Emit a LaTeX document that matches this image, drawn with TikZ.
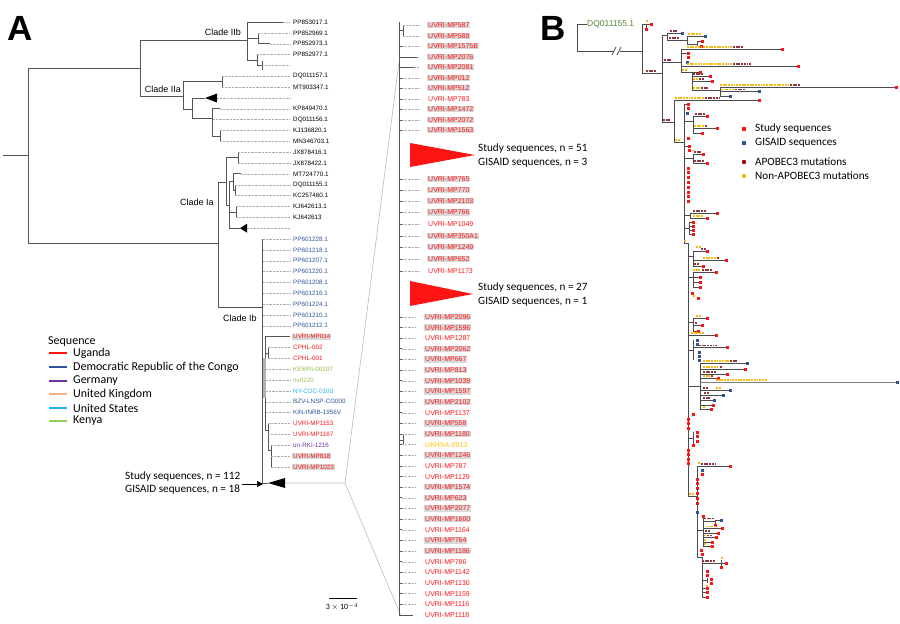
\documentclass[tikz,border=0pt]{standalone}
\usepackage{fontspec}
\setmainfont{Carlito}
\newfontfamily\arialf{Liberation Sans}
\usetikzlibrary{arrows.meta}
\definecolor{ured}{RGB}{255,20,20}
\definecolor{drcb}{RGB}{47,84,150}
\definecolor{germ}{RGB}{112,48,160}
\definecolor{ukor}{RGB}{244,177,131}
\definecolor{ust}{RGB}{40,180,240}
\definecolor{kenyat}{RGB}{146,190,80}
\definecolor{kenyal}{RGB}{146,208,80}
\definecolor{ukhsa}{RGB}{255,192,0}
\definecolor{bggray}{RGB}{217,217,217}
\definecolor{dqgreen}{RGB}{84,130,53}
\definecolor{apob}{RGB}{140,55,60}
\definecolor{apobdark}{RGB}{150,0,0}
\definecolor{nonap}{RGB}{245,185,20}
\definecolor{gblue}{RGB}{46,84,150}
\definecolor{brc}{RGB}{85,85,85}
\definecolor{bbrc}{RGB}{75,75,75}
\newcommand\dotR[2]{\fill[ured] ({#1-1.5},{#2-1.5}) rectangle ++(3,3);}
\newcommand\dotB[2]{\fill[gblue] ({#1-1.5},{#2-1.5}) rectangle ++(3,3);}
\newcommand\mutA[3]{\foreach \k in {1,...,#3}{\fill[apob] ({#1+2.7*(\k-1)-0.95},{#2-0.95}) rectangle ++(1.9,1.9);}}
\newcommand\mutN[3]{\foreach \k in {1,...,#3}{\fill[nonap] ({#1+2.7*(\k-1)-0.95},{#2-0.95}) rectangle ++(1.9,1.9);}}
\tikzset{
 br/.style={draw=brc, line width=0.9pt},
 bbr/.style={draw=bbrc, line width=0.7pt},
 lead/.style={draw=gray!65, line width=0.4pt, dash pattern=on 0.6pt off 0.8pt},
 lfA/.style={anchor=west, inner sep=0pt, font=\arialf\fontsize{6.3}{7}\selectfont},
 lfM/.style={anchor=west, inner xsep=1pt, inner ysep=0.8pt, font=\arialf\fontsize{7}{8}\selectfont, text=ured},
 clade/.style={inner sep=0pt, font=\arialf\fontsize{9}{10}\selectfont},
 leg/.style={anchor=west, inner sep=0pt, font=\fontsize{11.2}{13}\selectfont},
 legA/.style={anchor=west, inner sep=0pt, font=\fontsize{12}{14}\selectfont},
 zoomln/.style={draw=gray!55, line width=0.6pt},
}
\begin{document}
\begin{tikzpicture}[x=1pt,y=-1pt]
\useasboundingbox (0,0) rectangle (900,624);
% panel letters
\node[font=\arialf\bfseries\fontsize{35}{36}\selectfont, inner sep=0pt] (letA) at (20,28) {A};
\node[font=\arialf\bfseries\fontsize{35}{36}\selectfont, inner sep=0pt] (letB) at (553,28) {B};

% ===== Panel A left tree =====
\draw[br] (3,155) -- (28,155);
\draw[br] (28,68) -- (28,243);
\draw[br] (28,68) -- (140,68);
\draw[br] (140,40) -- (140,96);
\draw[br] (140,40) -- (247,40);
\draw[br] (247,22) -- (247,60);
\draw[br] (247,22) -- (283,22);
\draw[br] (247,38.3) -- (258,38.3);
\draw[br] (258,32.9) -- (258,43.7);
\draw[br] (258,43.7) -- (270,43.7);
\draw[br] (247,60) -- (257,60);
\draw[br] (257,54.6) -- (257,65.4);
\draw[br] (257,65.4) -- (262,65.4);
\draw[br] (262,61) -- (262,70);
\draw[br] (140,96) -- (183,96);
\draw[br] (183,81.7) -- (183,109);
\draw[br] (183,81.7) -- (222,81.7);
\draw[br] (222,76.3) -- (222,87.1);
\draw[br] (183,109) -- (192,109);
\draw[br] (192,98) -- (192,118);
\draw[br] (192,98) -- (205,98);
\fill[black] (205,98) -- (217,93.5) -- (217,102.5) -- cycle;
\draw[br] (192,118) -- (212,118);
\draw[br] (212,108.8) -- (212,136);
\draw[br] (212,108.8) -- (220,108.8);
\draw[br] (212,136) -- (220,136);
\draw[br] (220,130.5) -- (220,141.4);
\draw[br] (28,243) -- (218,243);
\draw[br] (218,182) -- (218,307);
\draw[br] (218,182) -- (226,182);
\draw[br] (226,157.6) -- (226,205);
\draw[br] (226,157.6) -- (238,157.6);
\draw[br] (238,152.2) -- (238,163.1);
\draw[br] (226,205) -- (229,205);
\draw[br] (229,181) -- (229,228.2);
\draw[br] (229,181) -- (233,181);
\draw[br] (233,173.9) -- (233,190.2);
\draw[br] (233,173.9) -- (241,173.9);
\draw[br] (233,190.2) -- (235,190.2);
\draw[br] (235,184.8) -- (235,195.6);
\draw[br] (229,212) -- (236,212);
\draw[br] (236,206.5) -- (236,217.3);
\draw[br] (229,228.2) -- (240,228.2);
\fill[black] (240,228.2) -- (247,223.7) -- (247,232.7) -- cycle;
\draw[br] (218,307) -- (262,307);
\draw[br] (262,239) -- (262,483);
\draw[br] (262,380) -- (265,380);
\draw[br] (265,336.7) -- (265,430);
\draw[br] (265,336.7) -- (290,336.7);
\fill[gray!60] (263.4,358) rectangle (266.2,398);
\draw[br] (265,353) -- (268,353);
\draw[br] (268,347.5) -- (268,358.4);
\draw[br] (265,430) -- (268,430);
\draw[br] (268,423.5) -- (268,450);
\draw[br] (268,450) -- (271,450);
\draw[br] (271,445.2) -- (271,466.9);
\draw[br] (262,483) -- (268,483);
\fill[black] (268,483) -- (285,478) -- (285,488) -- cycle;

% leaders left
\foreach \xs/\rr in {283/0,258/1,270/2,257/3,262/4,222/5,222/6,217/7,220/8,213/9,220/10,220/11,238/12,238/13,241/14,235/15,235/16,236/17,236/18,247/19,263/20,263/21,263/22,263/23,263/24,263/25,263/26,263/27,263/28,268/30,268/31,266/32,266/33,266/34,266/35,266/36,268/37,268/38,271/39,271/40,271/41}
  \draw[lead] (\xs,{22+10.85*\rr}) -- (290,{22+10.85*\rr});

% left labels
\foreach \rr/\lab/\cc in {0/PP853017.1/black,1/PP852969.1/black,2/PP852973.1/black,3/PP852977.1/black,5/DQ011157.1/black,6/MT903347.1/black,8/KP849470.1/black,9/DQ011156.1/black,10/KJ136820.1/black,11/MN346703.1/black,12/JX878416.1/black,13/JX878422.1/black,14/MT724770.1/black,15/DQ011155.1/black,16/KC257460.1/black,17/KJ642613.1/black,18/KJ642613/black,20/PP601228.1/drcb,21/PP601218.1/drcb,22/PP601207.1/drcb,23/PP601220.1/drcb,24/PP601208.1/drcb,25/PP601216.1/drcb,26/PP601224.1/drcb,27/PP601210.1/drcb,28/PP601212.1/drcb,30/CPHL-002/ured,31/CPHL-001/ured,32/KEMRI-00107/kenyat,33/nvrl220/kenyat,34/NY-CDC-0100/ust,35/BZV-LNSP-CG000/drcb,36/KIN-INRB-1956V/drcb,37/UVRI-MP1153/ured,38/UVRI-MP1167/ured,39/un-RKI-1216/germ}
  \node[lfA,text=\cc] (lA\rr) at (293,{22+10.85*\rr}) {\lab};
\foreach \rr/\lab in {29/UVRI-MP014,40/UVRI-MP818,41/UVRI-MP1023}
  \node[lfA,text=ured,fill=bggray,inner xsep=1pt,inner ysep=0.8pt] (lA\rr) at (292,{22+10.85*\rr}) {\lab\hspace{3pt}};

% clade labels
\node[clade] (cIIb) at (223,32) {Clade IIb};
\node[clade] (cIIa) at (163,89) {Clade IIa};
\node[clade] (cIa) at (197,202) {Clade Ia};
\node[clade] (cIb) at (240,318) {Clade Ib};

% legend A
\node[legA] (seqhead) at (48,342) {Sequence};
\foreach \yy/\cc/\lab [count=\i] in {353/ured/Uganda,367/drcb/Democratic Republic of the Congo,381/germ/Germany,394/ukor/United Kingdom,408/ust/United States,421/kenyal/Kenya}{
  \draw[\cc, line width=2.2pt] (49,\yy) -- (67,\yy);
  \node[legA] (legA\i) at (73,\yy) {\lab};
}

% collapsed clade annotation
\node[leg] (st112) at (125,477) {Study sequences, n = 112};
\node[leg] (gi18) at (125,490) {GISAID sequences, n = 18};
\coordinate (arrS) at (242,484);
\coordinate (arrE) at (263,484);
\draw[line width=0.7pt, -{Triangle[length=6pt,width=6pt]}] (arrS) -- (arrE);

% zoom lines
\coordinate (zA) at (285,483);
\coordinate (zB) at (345,483);
\coordinate (zT) at (399,62);
\coordinate (zD) at (401,616);
\draw[zoomln] (zA) -- (zB) -- (zT);
\draw[zoomln] (zB) -- (zD);

% scale bar
\draw[line width=0.5pt] (329,598) -- (357,598);
\node[inner sep=0pt, font=\fontsize{8}{9}\selectfont] (scl) at (342,607) {3 $\times$ 10$^{-4}$};

% ===== middle zoomed tree =====
\draw[br] (399,22) -- (399,616);
\draw[br] (399,30) -- (403,30);
\draw[br] (403,25) -- (403,36);
\draw[br] (399,57) -- (417,57);
\draw[br] (399,67) -- (414,67);
\draw[br] (399,440) -- (403,440);
\draw[br] (403,434) -- (403,445);
\draw[br] (399,615) -- (413,615);
\foreach \yy in {46,78,88,99,109,120,130,179,190,201,212.5,224,236,247,259,271}
  {\draw[br] (399,\yy) -- (402,\yy); \draw[lead] (402,\yy) -- (419,\yy);}
\foreach \yy in {25,36} \draw[lead] (403,\yy) -- (419,\yy);
\draw[lead] (417,57) -- (419,57);
\draw[lead] (414,67) -- (419,67);
\foreach \k in {0,...,27}
  {\draw[br] (399,{317+10.64*\k}) -- (402,{317+10.64*\k}); \draw[lead] (402,{317+10.64*\k}) -- (416,{317+10.64*\k});}

\foreach \yy/\lab/\hh [count=\i] in {25/UVRI-MP587/bggray,36/UVRI-MP588/bggray,46/UVRI-MP1575B/bggray,57/UVRI-MP2076/bggray,67/UVRI-MP2081/bggray,78/UVRI-MP012/bggray,88/UVRI-MP512/bggray,99/UVRI-MP783/none,109/UVRI-MP1472/bggray,120/UVRI-MP2072/bggray,130/UVRI-MP1563/bggray,179/UVRI-MP765/bggray,190/UVRI-MP770/bggray,201/UVRI-MP2103/bggray,212.5/UVRI-MP766/bggray,224/UVRI-MP1049/none,236/UVRI-MP350A1/bggray,247/UVRI-MP1249/bggray,259/UVRI-MP652/bggray,271/UVRI-MP1173/none}
  \node[lfM,fill=\hh] (mU\i) at (427,\yy) {\lab\hspace{5pt}};
\foreach \k/\lab/\hh in {0/UVRI-MP2096/bggray,1/UVRI-MP1596/bggray,2/UVRI-MP1287/none,3/UVRI-MP2062/bggray,4/UVRI-MP667/bggray,5/UVRI-MP813/bggray,6/UVRI-MP1039/bggray,7/UVRI-MP1597/bggray,8/UVRI-MP2102/bggray,9/UVRI-MP1137/none,10/UVRI-MP558/bggray,11/UVRI-MP1180/bggray,13/UVRI-MP1246/bggray,14/UVRI-MP787/none,15/UVRI-MP1129/none,16/UVRI-MP1574/bggray,17/UVRI-MP623/bggray,18/UVRI-MP2077/bggray,19/UVRI-MP1600/bggray,20/UVRI-MP1164/none,21/UVRI-MP764/bggray,22/UVRI-MP1186/bggray,23/UVRI-MP786/none,24/UVRI-MP1142/none,25/UVRI-MP1130/none,26/UVRI-MP1159/none,27/UVRI-MP1116/none,28/UVRI-MP1118/none}
  \node[lfM,fill=\hh] (mL\k) at (424,{317+10.64*\k}) {\lab\hspace{5pt}};
\node[lfM,text=ukhsa] (mL12) at (424,{317+10.64*12}) {UKHSA-0013};

% red collapsed triangles
\fill[ured] (410,143) -- (410,167) -- (475,155) -- cycle;
\fill[ured] (410,281) -- (410,306) -- (473,294) -- cycle;
\node[leg] (st51) at (478,149) {Study sequences, n = 51};
\node[leg] (gi3) at (478,163) {GISAID sequences, n = 3};
\node[leg] (st27) at (478,288) {Study sequences, n = 27};
\node[leg] (gi1) at (478,302) {GISAID sequences, n = 1};

% ===== Panel B =====
\node[anchor=west, inner sep=0pt, text=dqgreen, font=\arialf\fontsize{8.5}{9}\selectfont] (dq) at (587,24) {DQ011155.1};
\draw[bbr] (dq.west) -- (577,24) -- (577,51) -- (642,51);
\fill[white] (614,48) rectangle (620,54);
\draw[bbr] (612,55) -- (616,47);
\draw[bbr] (617,55) -- (621,47);
% N1
\draw[bbr] (642,24) -- (642,73);
\draw[bbr] (642,24) -- (651,24);
\draw[bbr] (646,24) -- (646,29);
\mutN{647}{21}{1}
\dotR{651}{24} \dotR{646}{29}
\draw[bbr] (642,73) -- (662,73); \mutA{647}{71}{4}
% N2
\draw[bbr] (662,35) -- (662,122);
\draw[bbr] (662,35) -- (667,35);
\draw[bbr] (667,33) -- (667,40);
\draw[bbr] (667,33) -- (682,33); \mutA{671}{31}{3} \dotB{682}{33}
\draw[bbr] (667,40) -- (687,40); \mutA{670}{38}{4}
\draw[bbr] (687,36) -- (687,44);
\draw[bbr] (687,36) -- (705,36); \mutN{689}{34}{5} \dotB{705}{36}
\draw[bbr] (687,44) -- (697,44);
\draw[bbr] (697,41) -- (697,46);
\draw[bbr] (697,41) -- (702,41);
\dotR{702}{41} \dotR{701}{46}
% N4
\draw[bbr] (662,62) -- (681,62); \mutA{665}{60}{3}
\draw[bbr] (681,49) -- (681,72);
\draw[bbr] (681,49) -- (782,49); \mutN{688}{47}{17} \mutA{734}{47}{4} \dotR{782}{49}
\draw[bbr] (681,53) -- (688,53); \dotR{688}{53} \dotR{688}{57.5} \dotB{687}{62}
\draw[bbr] (681,66) -- (798,66); \mutN{688}{64}{17} \mutA{734}{64}{7} \dotR{798}{66}
\draw[bbr] (681,72) -- (700,72); \mutN{683}{70}{2} \dotR{700}{72}
\draw[bbr] (692,72) -- (692,90);
\draw[bbr] (692,76) -- (710,76); \mutA{694}{74}{4} \dotR{710}{76}
\draw[bbr] (692,81) -- (712,81); \mutN{694}{79}{2} \mutA{700}{79}{2} \dotR{712}{81}
\draw[bbr] (692,90) -- (720,90); \mutN{694}{88}{3} \mutA{702}{88}{3}
\draw[bbr] (720,87) -- (720,96);
\draw[bbr] (720,87) -- (896,87); \mutN{721}{85}{26} \mutA{791}{85}{4} \dotR{896}{87}
\draw[bbr] (720,91.5) -- (759,91.5); \mutN{722}{89.5}{5} \mutA{736}{89.5}{4} \dotB{759}{91.5}
\draw[bbr] (720,96) -- (730,96); \dotB{730}{96}
% N5
\draw[bbr] (662,122) -- (674,122); \mutA{664}{120}{3}
\draw[bbr] (674,100) -- (674,142);
\draw[bbr] (674,100) -- (759,100); \mutN{676}{98}{11} \mutA{706}{98}{6} \dotR{759}{100}
\draw[bbr] (674,142) -- (684,142); \mutN{676}{140}{2}
% N6
\draw[bbr] (684,104) -- (684,243);
\draw[bbr] (684,104) -- (688,104); \dotR{688}{104} \dotR{688}{108.5} \dotB{687}{113}
\draw[bbr] (684,121) -- (693,121);
\draw[bbr] (693,116) -- (693,133);
\draw[bbr] (693,116) -- (707,116); \mutA{696}{114}{4} \dotR{707}{116}
\draw[bbr] (693,128) -- (717,128); \mutN{695}{126}{4} \mutA{706}{126}{1} \dotR{717}{128}
\draw[bbr] (693,133) -- (702,133); \dotR{702}{133}
\dotR{688}{138}
\draw[bbr] (684,146) -- (689,146); \dotR{689}{146} \dotR{689}{150.5}
\draw[bbr] (684,158) -- (693,158);
\draw[bbr] (693,154) -- (693,163);
\draw[bbr] (693,154) -- (703,154); \mutA{695}{152}{3} \dotR{703}{154} \mutN{693}{150.5}{1}
\draw[bbr] (693,163) -- (707,163); \mutA{695}{161}{4} \dotR{707}{163}
\foreach \yy in {168,172.8,...,206} {\dotR{688}{\yy}}
\draw[bbr] (684,215) -- (690,215);
\draw[bbr] (690,213) -- (690,218);
\draw[bbr] (690,213) -- (717,213); \mutA{694}{211}{5} \dotR{717}{213}
\draw[bbr] (690,218) -- (707,218); \mutN{694}{216}{4} \dotR{707}{218}
\draw[bbr] (684,228) -- (689,228);
\draw[bbr] (689,222) -- (689,234);
\foreach \yy in {222,226,230,234} {\draw[bbr] (689,\yy) -- (693,\yy); \dotR{693}{\yy}}
\draw[bbr] (684,243) -- (688,243); \mutN{685}{241}{1}
% N7
\draw[bbr] (688,243) -- (688,496);
\draw[bbr] (688,256) -- (693,256);
\draw[bbr] (693,251) -- (693,266);
\draw[bbr] (693,251) -- (707,251); \mutN{697}{247}{2} \mutA{702}{249}{2} \dotR{707}{251}
\draw[bbr] (693,260) -- (726,260); \mutN{704}{258}{5} \mutA{718}{258}{1} \dotR{726}{260}
\draw[bbr] (693,266) -- (703,266); \mutA{695}{264}{2} \dotR{703}{266}
\draw[bbr] (688,277) -- (693,277);
\draw[bbr] (693,272) -- (693,287);
\draw[bbr] (693,272) -- (716,272); \mutN{694}{270}{3} \mutA{703}{270}{4} \dotR{716}{272}
\foreach \yy in {277,282,287} {\draw[bbr] (693,\yy) -- (700,\yy); \dotR{700}{\yy}}
\dotR{692}{293} \mutN{694}{296}{1} \dotR{698}{298}
\draw[bbr] (688,322) -- (693,322);
\draw[bbr] (693,318) -- (693,331);
\draw[bbr] (693,318) -- (707,318); \mutN{697}{316}{2} \dotR{707}{318}
\draw[bbr] (693,325) -- (702,325); \mutA{696}{323}{1} \dotR{702}{325}
\draw[bbr] (693,331) -- (698,331); \dotR{698}{331}
\draw[bbr] (688,335) -- (716,335); \mutN{692}{333}{5} \dotR{716}{335}
\draw[bbr] (688,350) -- (693,350);
\draw[bbr] (693,340) -- (693,360);
\dotB{697}{340} \dotB{697}{344}
\draw[bbr] (693,347.5) -- (727,347.5); \mutA{700}{345.5}{7} \dotR{727}{347.5}
\dotB{699}{352} \dotB{699}{356} \dotB{699}{360}
\draw[bbr] (688,386) -- (700,386);
\draw[bbr] (700,363) -- (700,409);
\draw[bbr] (700,363) -- (747,363); \mutN{704}{361}{10} \mutA{731}{361}{3} \dotB{747}{363}
\draw[bbr] (700,369) -- (745,369); \mutN{704}{367}{6} \mutA{721}{367}{1} \dotR{745}{369}
\draw[bbr] (700,374) -- (727,374); \mutA{704}{372}{5} \dotR{727}{374}
\draw[bbr] (700,378) -- (718,378); \mutN{704}{376}{3} \mutA{712}{376}{1} \dotR{718}{378}
\draw[bbr,draw=gray] (700,382) -- (899,382); \mutN{717}{380}{19} \dotB{897}{382}
\draw[bbr] (700,390) -- (730,390); \mutA{704}{388}{2} \mutN{717}{388}{2} \dotB{730}{390}
\draw[bbr] (700,395) -- (723,395); \mutA{705}{393}{2} \dotB{723}{395}
\draw[bbr] (700,400) -- (714,400); \mutA{704}{398}{3} \dotB{714}{400}
\draw[bbr] (700,405) -- (713,405); \dotR{713}{405}
\draw[bbr] (700,409) -- (711,409); \mutN{704}{407}{1} \dotR{711}{409}
\dotR{693}{414}
\foreach \yy in {419,423.8,428.6} {\dotR{688}{\yy}}
\draw[bbr] (688,438) -- (693,438);
\draw[bbr] (693,432) -- (693,444);
\foreach \yy in {432,436.5,441} {\dotR{697}{\yy}}
\dotR{693}{445.5}
\foreach \yy in {450,454.5,459,463.5} {\dotR{688}{\yy}}
\draw[bbr] (688,496) -- (697,496); \mutN{690}{494}{2}
% N8
\draw[bbr] (697,466) -- (697,557);
\draw[bbr] (697,466) -- (730,466); \mutN{699}{463}{1} \mutA{702}{464}{6} \dotR{730}{466}
\dotB{702}{470} \dotR{702}{474.5}
\foreach \yy in {479,483.8,...,507} {\dotR{697}{\yy}}
\dotB{697}{512}
\draw[bbr] (697,530) -- (703,530);
\draw[bbr] (703,516) -- (703,546);
\dotR{703}{516}
\draw[bbr] (703,521) -- (715,521);
\draw[bbr] (715,520) -- (715,525);
\draw[bbr] (715,520) -- (721,520);
\mutA{705}{518.5}{4} \dotB{721}{520} \dotR{715}{525}
\draw[bbr] (703,528.5) -- (722,528.5); \mutN{707}{526.5}{4} \dotR{722}{528.5}
\draw[bbr] (703,533) -- (718,533); \mutA{706}{531}{2} \dotR{718}{533}
\draw[bbr] (703,537.5) -- (716,537.5); \mutN{705}{535.5}{1} \mutA{708}{535.5}{2} \dotR{716}{537.5}
\draw[bbr] (703,542) -- (712,542); \mutN{705}{540}{1} \dotR{712}{542}
\draw[bbr] (703,546) -- (712,546); \mutN{705}{544}{1} \dotR{712}{546}
\dotR{701}{550} \dotR{702}{554.5}
\draw[bbr] (697,557) -- (702,557);
% N9
\draw[bbr] (702,557) -- (702,597);
\draw[bbr] (702,563) -- (726,563); \mutA{703}{561}{5}
\draw[bbr] (721,560) -- (721,567);
\mutN{722}{558}{1} \dotR{726}{563} \dotR{721}{567.5}
\dotR{707}{571} \dotR{707}{575.5}
\draw[bbr] (702,580) -- (707,580);
\draw[bbr] (707,578) -- (707,583);
\dotR{711}{579} \dotR{711}{583.5} \mutN{707}{586}{1}
\foreach \yy in {588,592.5,597} {\draw[bbr] (702,\yy) -- (707,\yy); \dotR{707}{\yy}}

% legend B
\fill[ured] (742,127) rectangle ++(4,4);
\node[leg] (lbS) at (755,129) {Study sequences};
\fill[gblue] (742,141) rectangle ++(4,4);
\node[leg] (lbG) at (755,143) {GISAID sequences};
\fill[apobdark] (744,162) circle (2.2);
\node[leg] (lbA) at (755,162) {APOBEC3 mutations};
\fill[nonap] (744,176) circle (2.2);
\node[leg] (lbN) at (755,176) {Non-APOBEC3 mutations};
\end{tikzpicture}
\end{document}
